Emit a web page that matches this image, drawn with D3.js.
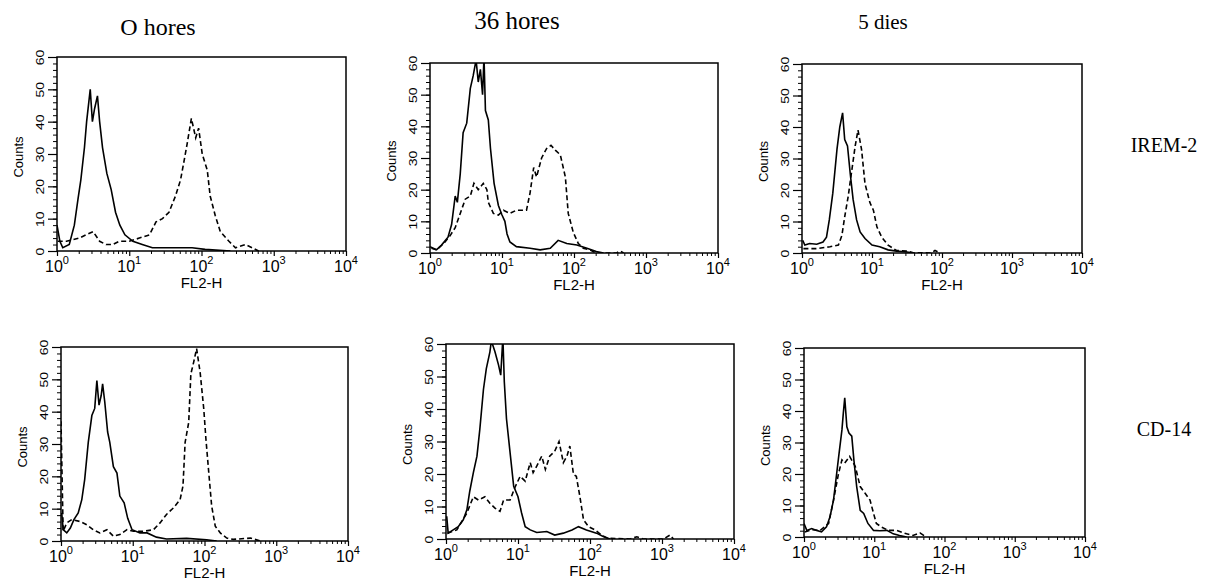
<!DOCTYPE html>
<html>
<head>
<meta charset="utf-8">
<script src="https://cdn.jsdelivr.net/npm/d3@7"></script>
<style>
  body { margin: 0; background: #fff; }
  svg { display: block; }
  .tick line, .domain { stroke: #000; }
  .tick text { fill: #000; }
  .title { font-family: "Liberation Serif", "Times New Roman", serif; fill: #000; }
  .axlabel { font-family: "Liberation Sans", Arial, sans-serif; fill: #000; }
</style>
</head>
<body>
<script>
(function () {

  // x values are decades of FL2-H (10^d), y values are counts
  let timeLabels = ['O hores', '36 hores', '5 dies'];
  let markerLabels = ['IREM-2', 'CD-14'];
  let countTicks = [0, 10, 20, 30, 40, 50, 60];
  let decadeTicks = [0, 1, 2, 3, 4];

  let irem0Solid = [[0,8],[0.04,3],[0.08,1],[0.17,2],[0.24,8],[0.29,16],[0.33,22],[0.38,32],[0.41,40],[0.46,50],[0.49,40],[0.52,44],[0.56,48],[0.59,40],[0.63,32],[0.69,24],[0.75,19],[0.81,12],[0.87,8],[0.94,5],[1.05,3],[1.18,2],[1.32,1],[1.6,1],[1.87,1],[2.05,0.5],[2.4,0]];
  let irem0Dash  = [[0.01,3],[0.13,3],[0.31,4],[0.40,5],[0.50,6],[0.59,3],[0.68,2],[0.77,2],[0.86,3],[1.0,3],[1.14,4],[1.28,5],[1.37,9],[1.46,10],[1.55,12],[1.64,17],[1.71,22],[1.76,28],[1.80,33],[1.86,41],[1.92,35],[1.96,38],[2.01,30],[2.08,25],[2.12,17],[2.19,11],[2.26,6],[2.38,3],[2.47,1],[2.61,2],[2.70,1],[2.79,0]];

  let irem36Solid = [[0,2],[0.09,1],[0.16,2.5],[0.25,5],[0.30,9],[0.35,18],[0.38,16],[0.42,25],[0.46,38],[0.51,41],[0.56,52],[0.60,56],[0.64,61],[0.67,54],[0.70,58],[0.73,50],[0.75,62],[0.77,45],[0.81,42],[0.84,33],[0.89,22],[0.95,15],[1.0,12],[1.04,10],[1.07,6],[1.11,3.5],[1.20,2],[1.39,1.5],[1.53,1],[1.67,1.5],[1.78,4],[1.90,3],[2.04,2.5],[2.18,1.5],[2.31,0.5],[2.41,0]];
  let irem36Dash  = [[0.02,1.5],[0.09,1],[0.19,3],[0.28,5.5],[0.35,8],[0.42,12.5],[0.49,17],[0.56,18],[0.61,22],[0.67,20],[0.74,22],[0.79,20],[0.81,16],[0.88,12.5],[0.95,12],[1.02,13.5],[1.11,12.5],[1.20,13.5],[1.34,13.5],[1.39,19],[1.44,27],[1.48,24],[1.55,30],[1.62,33],[1.68,34],[1.74,32.5],[1.81,31],[1.88,24],[1.92,12.5],[1.99,6.5],[2.06,3],[2.13,1.5],[2.22,1],[2.31,0],[2.59,0],[2.64,0.6],[2.69,0]];

  let irem5Solid = [[0.01,4],[0.04,2.5],[0.11,3],[0.21,2.8],[0.30,3.5],[0.35,5],[0.39,10.5],[0.44,19],[0.50,33],[0.54,40],[0.58,44.5],[0.61,36],[0.65,34],[0.69,25],[0.73,17],[0.78,10.5],[0.83,6.7],[0.90,4.6],[1.0,2.5],[1.11,2],[1.23,1],[1.35,0.6],[1.50,0.3],[1.59,0]];
  let irem5Dash  = [[0.02,1.4],[0.21,1.4],[0.40,2],[0.52,2.5],[0.57,5.6],[0.61,11.5],[0.66,18],[0.71,26],[0.76,34],[0.80,39],[0.85,33],[0.90,22],[0.97,16],[1.02,13.6],[1.07,8.3],[1.14,5],[1.23,2.5],[1.35,0.8],[1.50,0.6],[1.59,0.1],[1.85,0],[1.90,0.8],[1.97,0]];

  let cd0Solid = [[0.01,8.7],[0.03,3.5],[0.08,2.5],[0.13,4],[0.18,6.6],[0.24,8.7],[0.29,12.8],[0.33,19],[0.38,30.5],[0.43,38.8],[0.47,41],[0.50,49.6],[0.53,42],[0.56,45],[0.58,48.6],[0.61,43],[0.65,33.7],[0.68,30.5],[0.73,23],[0.78,21],[0.82,13.9],[0.88,11.8],[0.93,7],[0.99,3.5],[1.10,2.5],[1.20,2.5],[1.33,1.2],[1.47,0.6],[1.75,0.8],[2.03,0.4],[2.17,0]];
  let cd0Dash  = [[0,37],[0.03,3],[0.08,5.6],[0.15,6.6],[0.27,6],[0.36,5],[0.45,3.5],[0.54,2.5],[0.64,3.5],[0.73,1.5],[0.82,2],[0.92,3.5],[1.01,3],[1.15,3],[1.29,3.5],[1.38,5.6],[1.47,8.2],[1.57,10.3],[1.66,12.8],[1.70,17],[1.73,30.5],[1.78,36.7],[1.81,51.7],[1.85,55.4],[1.89,59.5],[1.94,52],[1.99,40.8],[2.02,31.5],[2.06,21],[2.10,10.8],[2.15,4.6],[2.22,2.5],[2.31,0.9],[2.40,0.5],[2.64,0.9],[2.78,0]];

  let cd36Solid = [[0.01,7],[0.03,1.8],[0.10,2.8],[0.17,3.8],[0.24,5.9],[0.29,9],[0.33,14.7],[0.38,20.4],[0.43,25.5],[0.47,33.8],[0.52,46],[0.56,52.4],[0.61,57.6],[0.63,61],[0.68,57.6],[0.73,53.5],[0.76,50.4],[0.79,62],[0.81,48.3],[0.84,37],[0.89,26.6],[0.94,16.2],[1.0,13],[1.05,8],[1.10,3.8],[1.17,2.8],[1.26,2],[1.40,2.3],[1.51,1.2],[1.63,1.8],[1.75,2.8],[1.84,3.8],[1.95,2.8],[2.09,1.8],[2.19,0.7],[2.28,0]];
  let cd36Dash  = [[0.02,1.8],[0.15,2.8],[0.29,8],[0.38,13],[0.45,12],[0.54,13],[0.61,11],[0.68,9.5],[0.75,8.5],[0.80,12],[0.89,12],[0.96,16],[1.03,19.3],[1.10,17.8],[1.17,23.5],[1.21,20.4],[1.26,22.4],[1.33,25.5],[1.38,21.4],[1.44,25.5],[1.51,27],[1.57,30],[1.63,23.5],[1.68,25.5],[1.72,28.6],[1.77,19.9],[1.81,19.3],[1.86,13],[1.91,5.9],[1.98,3.8],[2.07,2.8],[2.16,1.2],[2.25,0.2],[2.56,0],[2.65,0.7],[2.74,0],[3.02,0],[3.11,1.2],[3.16,0]];

  let cd5Solid = [[0,4.3],[0.04,2.1],[0.11,2.7],[0.18,2.1],[0.25,1.6],[0.32,3.2],[0.37,6.4],[0.42,11.7],[0.46,19.2],[0.50,26.7],[0.54,34],[0.56,39.4],[0.58,44.2],[0.61,35],[0.64,33],[0.68,32],[0.71,24.5],[0.75,16],[0.80,8.5],[0.85,7.5],[0.91,4.3],[0.99,2.1],[1.08,2],[1.18,2.1],[1.27,1],[1.36,0.5],[1.46,0]];
  let cd5Dash  = [[0.01,1.6],[0.11,2.3],[0.23,2.1],[0.35,4.3],[0.42,11.7],[0.49,20],[0.54,24.5],[0.58,23.5],[0.65,25.6],[0.73,22.4],[0.80,16],[0.87,13.9],[0.94,11.7],[0.99,7.5],[1.03,4.3],[1.10,3.2],[1.20,2.1],[1.32,2.1],[1.46,1],[1.55,0.5],[1.65,1.3],[1.74,0]];

  function go() {

    let width = 1230, height = 580;

    // panel frames: left, right, top, bottom (axis line)
    let panels = [
      { x0: 57,  x1: 346,  y0: 57,  y1: 251, solid: irem0Solid,  dash: irem0Dash },
      { x0: 430, x1: 718,  y0: 63,  y1: 253, solid: irem36Solid, dash: irem36Dash },
      { x0: 802, x1: 1082, y0: 64,  y1: 253, solid: irem5Solid,  dash: irem5Dash },
      { x0: 61,  x1: 348,  y0: 347, y1: 541, solid: cd0Solid,    dash: cd0Dash },
      { x0: 446, x1: 734,  y0: 344, y1: 539, solid: cd36Solid,   dash: cd36Dash },
      { x0: 804, x1: 1085, y0: 348, y1: 537, solid: cd5Solid,    dash: cd5Dash }
    ];

    let svg = d3.select('body').append('svg')
        .attr('width', width)
        .attr('height', height);

    let minorX = [];
    for (let d = 0; d < 4; d++) {
      for (let m = 2; m < 10; m++) minorX.push(m * Math.pow(10, d));
    }
    let minorY = d3.range(0, 61, 2);

    panels.forEach(function (p, i) {
      let x = d3.scaleLog().domain([1, 1e4]).range([p.x0, p.x1]);
      let y = d3.scaleLinear().domain([0, 60]).range([p.y1, p.y0]);

      let g = svg.append('g');

      g.append('clipPath').attr('id', 'clip' + i)
        .append('rect')
        .attr('x', p.x0).attr('y', p.y0)
        .attr('width', p.x1 - p.x0).attr('height', p.y1 - p.y0);

      let line = d3.line()
          .x(function (d) { return x(Math.pow(10, d[0])); })
          .y(function (d) { return y(d[1]); });

      g.append('path')
        .attr('d', line(p.dash))
        .attr('clip-path', 'url(#clip' + i + ')')
        .attr('fill', 'none')
        .attr('stroke', '#000')
        .attr('stroke-width', 1.6)
        .attr('stroke-dasharray', '5,3');

      g.append('path')
        .attr('d', line(p.solid))
        .attr('clip-path', 'url(#clip' + i + ')')
        .attr('fill', 'none')
        .attr('stroke', '#000')
        .attr('stroke-width', 1.6);

      g.append('rect')
        .attr('x', p.x0).attr('y', p.y0)
        .attr('width', p.x1 - p.x0).attr('height', p.y1 - p.y0)
        .attr('fill', 'none')
        .attr('stroke', '#000')
        .attr('stroke-width', 1.5);

      // y axis
      g.append('g')
        .attr('transform', 'translate(' + p.x0 + ',0)')
        .call(d3.axisLeft(y).tickValues(minorY).tickSize(4).tickSizeOuter(0).tickFormat(''))
        .call(function (a) { a.select('.domain').remove(); });

      let ya = g.append('g')
        .attr('transform', 'translate(' + p.x0 + ',0)')
        .call(d3.axisLeft(y).tickValues(countTicks).tickSize(9).tickSizeOuter(0));
      ya.select('.domain').remove();
      ya.selectAll('.tick line').attr('stroke-width', 1.2);
      ya.selectAll('.tick text')
        .attr('x', null).attr('dy', null)
        .attr('text-anchor', 'middle')
        .attr('transform', 'translate(-13,0) rotate(-90) scale(1,0.75)')
        .style('font-family', '"Liberation Sans", Arial, sans-serif')
        .style('font-size', '14px');

      g.append('text')
        .attr('class', 'axlabel')
        .attr('transform', 'translate(' + (p.x0 - 34) + ',' + ((p.y0 + p.y1) / 2 + 3) + ') rotate(-90)')
        .attr('text-anchor', 'middle')
        .style('font-size', '13px')
        .text('Counts');

      // x axis
      g.append('g')
        .attr('transform', 'translate(0,' + p.y1 + ')')
        .call(d3.axisBottom(x).tickValues(minorX).tickSize(3).tickSizeOuter(0).tickFormat(''))
        .call(function (a) { a.select('.domain').remove(); });

      let xa = g.append('g')
        .attr('transform', 'translate(0,' + p.y1 + ')')
        .call(d3.axisBottom(x).tickValues(decadeTicks.map(function (d) { return Math.pow(10, d); }))
          .tickSize(5).tickSizeOuter(0).tickFormat(''));
      xa.select('.domain').remove();
      xa.selectAll('.tick line').attr('stroke-width', 1.2);

      decadeTicks.forEach(function (d) {
        let t = g.append('text')
          .attr('class', 'axlabel')
          .attr('x', x(Math.pow(10, d)))
          .attr('y', p.y1 + 21)
          .attr('text-anchor', 'middle')
          .style('font-size', '16px');
        t.append('tspan').text('10');
        t.append('tspan').attr('dy', -8).style('font-size', '11px').text(d);
      });

      g.append('text')
        .attr('class', 'axlabel')
        .attr('x', (p.x0 + p.x1) / 2)
        .attr('y', p.y1 + 37)
        .attr('text-anchor', 'middle')
        .style('font-size', '15px')
        .text('FL2-H');
    });

    let titleX = [158, 517, 883];
    let titleY = [35, 29, 29];
    let titleSize = [24, 25, 21];
    svg.selectAll('text.time').data(timeLabels).enter()
      .append('text')
      .attr('class', 'title time')
      .attr('x', function (d, i) { return titleX[i]; })
      .attr('y', function (d, i) { return titleY[i]; })
      .attr('text-anchor', 'middle')
      .style('font-size', function (d, i) { return titleSize[i] + 'px'; })
      .text(function (d) { return d; });

    let rowY = [152, 436];
    svg.selectAll('text.marker').data(markerLabels).enter()
      .append('text')
      .attr('class', 'title marker')
      .attr('x', 1164)
      .attr('y', function (d, i) { return rowY[i]; })
      .attr('text-anchor', 'middle')
      .style('font-size', '20px')
      .text(function (d) { return d; });
  }

  document.addEventListener("DOMContentLoaded", go);

})();
</script>
</body>
</html>
